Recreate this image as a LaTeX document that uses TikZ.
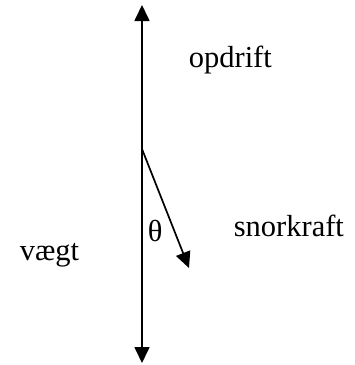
\documentclass[tikz,border=0pt]{standalone}
\usepackage{fontspec}
\setmainfont{Liberation Serif}
\usetikzlibrary{arrows.meta,positioning}

\begin{document}
\begin{tikzpicture}[x=1pt,y=-1pt,>={Triangle[width=15pt,length=16pt]},line width=1.7pt,
  lbl/.style={inner sep=0pt,anchor=base west,font=\fontsize{30.5}{36}\selectfont}]
\useasboundingbox (0,0) rectangle (355,365);
\coordinate (top) at (142,5);
\coordinate (bund) at (142,363);
\coordinate (ophaeng) at (142,149);
\coordinate (snor) at (189,268);

\node [lbl] at (188,67) (opdrift) {opdrift};
\node [lbl] at (233,236) (snorkraft) {snorkraft};
\node [lbl] at (19,260) (vaegt) {vægt};
\node [lbl] at (147,241) (theta) {θ};

\draw [<->] (bund) -- (top);
\draw [->] (ophaeng) -- (snor);
\end{tikzpicture}
\end{document}
